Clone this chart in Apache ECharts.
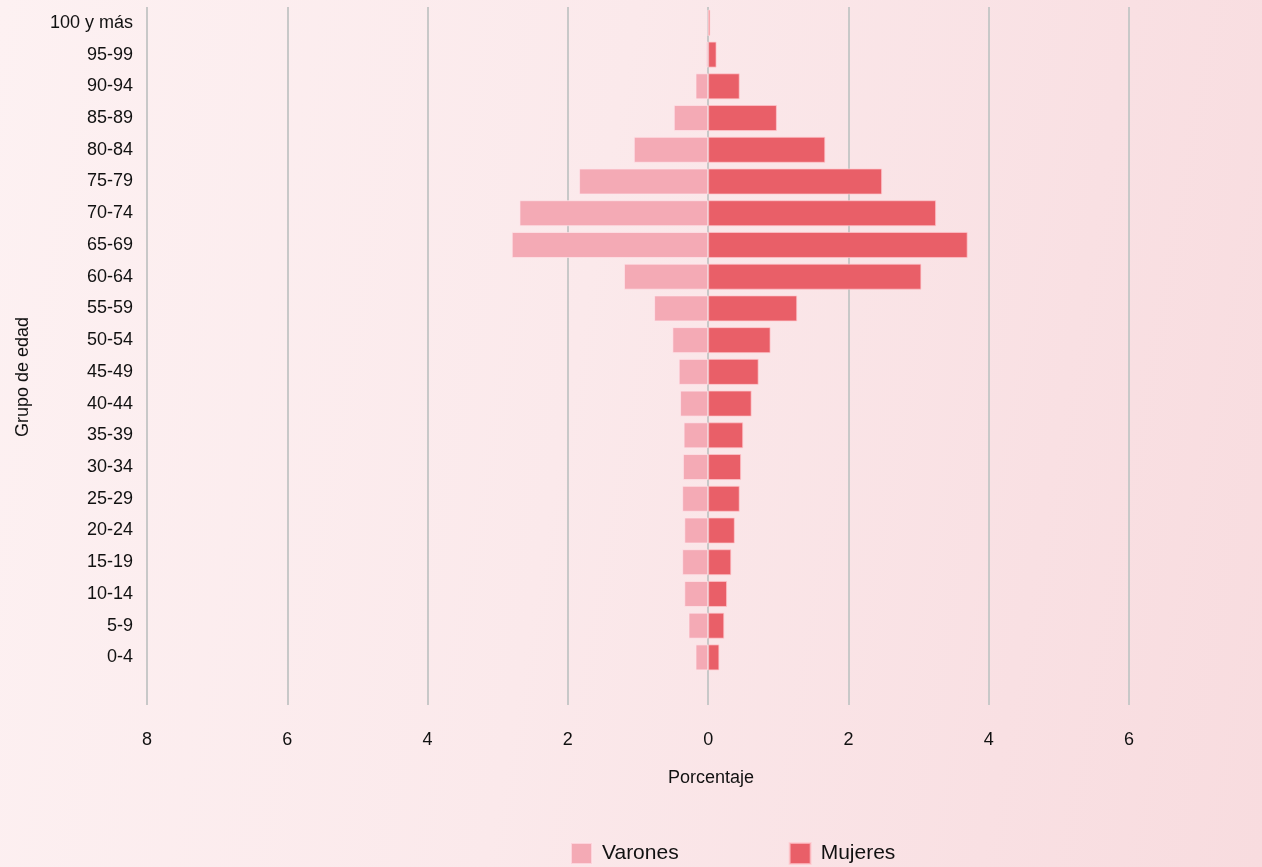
<!DOCTYPE html>
<html>
<head>
<meta charset="utf-8">
<script src="https://cdn.jsdelivr.net/npm/echarts@6/dist/echarts.min.js"></script>
<style>
html,body{margin:0;padding:0;width:1262px;height:867px;overflow:hidden;
background:linear-gradient(100deg,#fdf1f2 0%,#fbe9eb 45%,#f9e0e3 80%,#f8dcdf 100%);}
#chart{width:1262px;height:867px;}
</style>
</head>
<body>
<div id="chart"></div>
<script>
const categories = ['0-4','5-9','10-14','15-19','20-24','25-29','30-34','35-39','40-44','45-49','50-54','55-59','60-64','65-69','70-74','75-79','80-84','85-89','90-94','95-99','100 y más'];
const varones = [0.18,0.28,0.34,0.37,0.34,0.37,0.36,0.35,0.40,0.42,0.51,0.77,1.20,2.80,2.69,1.84,1.06,0.49,0.18,0.03,0.00];
const mujeres = [0.16,0.23,0.27,0.33,0.38,0.45,0.47,0.50,0.62,0.72,0.89,1.27,3.04,3.70,3.25,2.48,1.67,0.98,0.45,0.12,0.03];
const xTicks = {min:-8, max:6, interval:2};

const axisCats = [''].concat(categories);
const chart = echarts.init(document.getElementById('chart'), null, {renderer:'canvas'});
const font = 'Liberation Sans, Arial, Helvetica, sans-serif';
chart.setOption({
  backgroundColor: 'transparent',
  textStyle: {fontFamily: font},
  grid: {left:147, right:133, top:7, bottom:162, containLabel:false},
  xAxis: {
    type:'value', min:xTicks.min, max:xTicks.max, interval:xTicks.interval,
    axisLine:{show:false}, axisTick:{show:false},
    splitLine:{show:true, lineStyle:{color:'#c8c8c8', width:2}},
    axisLabel:{color:'#111', fontSize:18, margin:26, formatter:v=>String(Math.abs(v))}
  },
  yAxis: {
    type:'category', data:axisCats,
    axisLine:{show:false}, axisTick:{show:false}, splitLine:{show:false},
    axisLabel:{color:'#111', fontSize:18, margin:14, padding:[3,0,0,0]}
  },
  legend: {
    left:570, top:842, padding:0, itemWidth:21, itemHeight:21, itemGap:110,
    icon:'rect',
    textStyle:{fontSize:21, color:'#111', fontFamily:font, padding:[1,0,0,5]},
    data:['Varones','Mujeres']
  },
  graphic: [
    {type:'text', x:711, y:778, style:{text:'Porcentaje', font:'18px '+font, fill:'#111', align:'center', verticalAlign:'middle'}},
    {type:'text', rotation:Math.PI/2, x:23, y:377, style:{text:'Grupo de edad', font:'18px '+font, fill:'#111', align:'center', verticalAlign:'middle'}}
  ],
  series: [
    {name:'Varones', type:'bar', barWidth:26, barGap:'-100%',
     data:[null].concat(varones.map(v=>-v)),
     itemStyle:{color:'#f4aab5', borderColor:'rgba(255,230,235,0.7)', borderWidth:1},
     silent:true, animation:false},
    {name:'Mujeres', type:'bar', barWidth:26, barGap:'-100%',
     data:[null].concat(mujeres),
     itemStyle:{color:'#e95f68', borderColor:'rgba(255,200,205,0.7)', borderWidth:1},
     silent:true, animation:false}
  ]
});
</script>
</body>
</html>
